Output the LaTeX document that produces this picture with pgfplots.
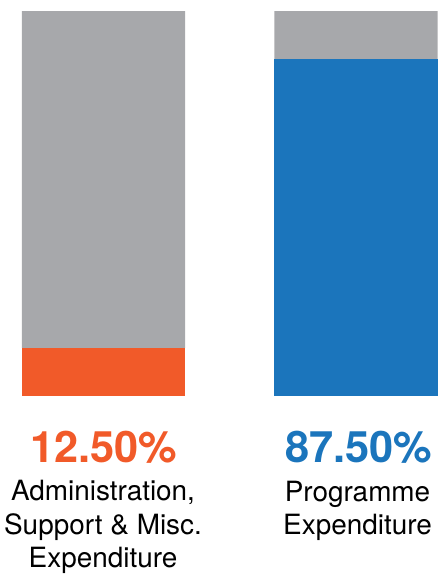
\documentclass[border=0pt]{standalone}
\usepackage{pgfplots}
\pgfplotsset{compat=1.18}
\usepackage{fontspec}
\setmainfont{TeX Gyre Heros}
\definecolor{barGray}{HTML}{A7A8AB}
\definecolor{adminOrange}{HTML}{F15A29}
\definecolor{progBlue}{HTML}{1B75BC}
\begin{document}
\begin{tikzpicture}
	\useasboundingbox (0,0) rectangle (438bp,-576bp);
	\begin{axis}[
		at={(0,-11bp)}, anchor=north west,
		scale only axis,
		width=438bp, height=385bp,
		xmin=-0.4099, xmax=1.3248,
		ymin=0, ymax=100,
		axis lines=none,
		ticks=none,
		ybar stacked,
		bar width=0.6475,
		clip=false,
		]
		\addplot[fill=adminOrange, draw=none] coordinates {(0,12.5) (1,0)};
		\addplot[fill=progBlue, draw=none] coordinates {(0,0) (1,87.5)};
		\addplot[fill=barGray, draw=none] coordinates {(0,87.5) (1,12.5)};
	\end{axis}
	% percentage labels
	\node[anchor=base, inner sep=0pt, text=adminOrange, font=\fontsize{43.5}{43.5}\selectfont\bfseries] at (103.5bp,-462bp) {12.50\%};
	\node[anchor=base, inner sep=0pt, text=progBlue, font=\fontsize{43.5}{43.5}\selectfont\bfseries] at (359bp,-462bp) {87.50\%};
	% category labels
	\begin{scope}[every node/.style={anchor=base, inner sep=0pt, font=\fontsize{28}{28}\selectfont}]
		\node at (103bp,-500.5bp) {Administration,};
		\node at (103bp,-534bp) {Support \& Misc.};
		\node at (103bp,-567bp) {Expenditure};
		\node at (357.5bp,-501bp) {Programme};
		\node at (357.5bp,-534.5bp) {Expenditure};
	\end{scope}
\end{tikzpicture}
\end{document}
